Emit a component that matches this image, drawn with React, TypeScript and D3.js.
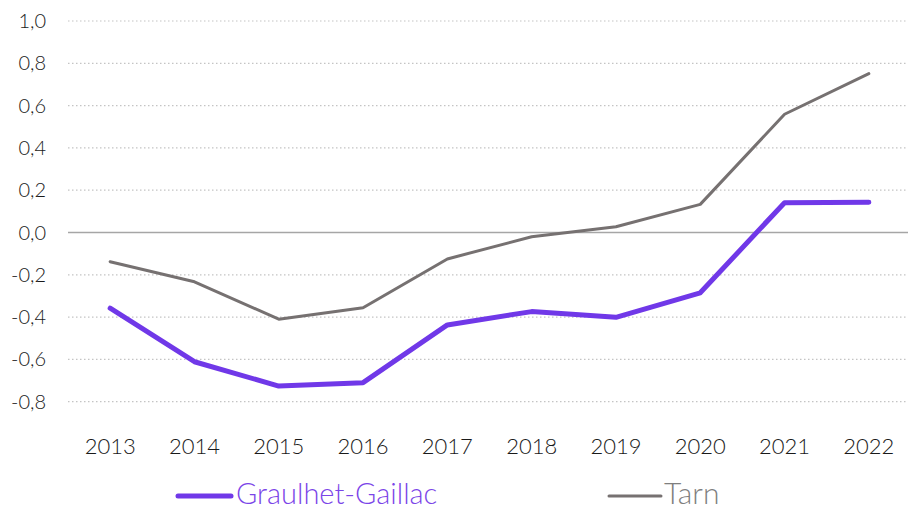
import React from 'react';
import * as d3 from 'd3';

const years = ['2013', '2014', '2015', '2016', '2017', '2018', '2019', '2020', '2021', '2022'];
const graulhet = [-0.358, -0.611, -0.726, -0.71, -0.437, -0.374, -0.401, -0.285, 0.141, 0.143];
const tarn = [-0.138, -0.233, -0.41, -0.356, -0.125, -0.02, 0.027, 0.133, 0.559, 0.751];
const yTicks = [1.0, 0.8, 0.6, 0.4, 0.2, 0.0, -0.2, -0.4, -0.6, -0.8];

const W = 908;
const H = 510;
const font = 'Lato, "Open Sans", sans-serif';

export default function App() {
  const x = d3.scalePoint<string>().domain(years).range([68, 911]).padding(0.5);
  const y = d3.scaleLinear().domain([0, 1]).range([232.5, 21]);

  const line = d3.line<number>()
    .x((_, i) => x(years[i]) as number)
    .y(d => y(d));

  const fmt = (v: number) => d3.format('.1f')(v).replace('.', ',').replace('−', '-');

  return (
    <svg width={W} height={H} style={{ position: 'absolute', left: 0, top: 0 }}>
      {yTicks.map(t => (
        <g key={t}>
          <line
            x1={68} x2={W} y1={y(t)} y2={y(t)}
            stroke={t === 0 ? '#a6a6a6' : '#c4c4c4'}
            strokeWidth={t === 0 ? 1.5 : 1.2}
            strokeDasharray={t === 0 ? undefined : '1.5 2.5'}
          />
          <text x={46} y={y(t)} dy="0.35em" textAnchor="end"
            fontFamily={font} fontWeight={300} fontSize={20} fill="#1a1a1a">
            {fmt(t)}
          </text>
        </g>
      ))}
      {years.map(yr => (
        <text key={yr} x={x(yr)} y={454} textAnchor="middle"
          fontFamily={font} fontWeight={300} fontSize={22} fill="#1a1a1a">
          {yr}
        </text>
      ))}
      <path d={line(tarn) || ''} fill="none" stroke="#767171" strokeWidth={3}
        strokeLinejoin="round" strokeLinecap="round" />
      <path d={line(graulhet) || ''} fill="none" stroke="#7038e8" strokeWidth={5}
        strokeLinejoin="round" strokeLinecap="round" />

      <line x1={178} x2={231} y1={496} y2={496} stroke="#7038e8" strokeWidth={5} strokeLinecap="round" />
      <text x={236} y={504} fontFamily={font} fontWeight={300} fontSize={29} fill="#7b45e8">
        Graulhet-Gaillac
      </text>
      <line x1={609} x2={661} y1={496} y2={496} stroke="#767171" strokeWidth={3} strokeLinecap="round" />
      <text x={664} y={504} fontFamily={font} fontWeight={300} fontSize={30} fill="#7f7f7f">
        Tarn
      </text>
    </svg>
  );
}
